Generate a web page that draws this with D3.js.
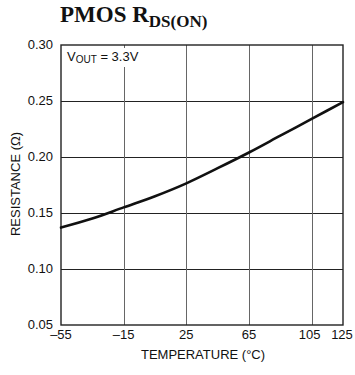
<!DOCTYPE html>
<html>
<head>
<meta charset="utf-8">
<script src="https://cdn.jsdelivr.net/npm/d3@7"></script>
<style>
  html, body { margin: 0; padding: 0; background: #fff; }
  svg { display: block; }
  .lbl { font-family: "Liberation Sans", Arial, Helvetica, sans-serif; }
</style>
</head>
<body>
<script>
// PMOS on-resistance versus junction temperature
const temperatures = [-55, -35, -15, 5, 25, 45, 65, 85, 105, 125];
const resistance   = [0.137, 0.145, 0.155, 0.165, 0.1765, 0.19, 0.204, 0.219, 0.234, 0.249];
const xTicks = [-55, -15, 25, 65, 105, 125];
const yTicks = [0.05, 0.10, 0.15, 0.20, 0.25, 0.30];

const W = 355, H = 375;
const margin = { left: 61, right: 12, top: 45, bottom: 50 };

const svg = d3.select("body").append("svg")
  .attr("width", W).attr("height", H);

const x = d3.scaleLinear().domain([-55, 125]).range([margin.left, W - margin.right]);
const y = d3.scaleLinear().domain([0.05, 0.30]).range([H - margin.bottom, margin.top]);

// Title
const title = svg.append("text")
  .attr("x", 60).attr("y", 22)
  .attr("font-family", "'Liberation Serif', 'Times New Roman', serif")
  .attr("font-weight", "bold")
  .attr("font-size", 23)
  .attr("fill", "#111");
title.append("tspan").text("PMOS R");
title.append("tspan").attr("font-size", 17).attr("dy", 5).text("DS(ON)");

// Grid lines
const grid = svg.append("g");
grid.selectAll("line.h")
  .data(yTicks.filter(v => v > 0.05 && v < 0.30))
  .join("line")
  .attr("x1", x(-55)).attr("x2", x(125))
  .attr("y1", d => Math.round(y(d)) + 0.5).attr("y2", d => Math.round(y(d)) + 0.5)
  .attr("stroke", "#222").attr("stroke-width", 1);
grid.selectAll("line.v")
  .data(xTicks.filter(v => v > -55 && v < 125))
  .join("line")
  .attr("x1", d => Math.round(x(d)) + 0.5).attr("x2", d => Math.round(x(d)) + 0.5)
  .attr("y1", y(0.30)).attr("y2", y(0.05))
  .attr("stroke", "#666").attr("stroke-width", 1);

// Condition label, set on a white patch over the grid
svg.append("rect")
  .attr("x", 64).attr("y", 48).attr("width", 82).attr("height", 19)
  .attr("fill", "#fff");
const cond = svg.append("text")
  .attr("class", "lbl")
  .attr("x", 67).attr("y", 61)
  .attr("font-size", 13).attr("fill", "#111");
cond.append("tspan").text("V");
cond.append("tspan").attr("font-size", 10).attr("dy", 2).text("OUT");
cond.append("tspan").attr("dy", -2).text(" = 3.3V");

// Frame
svg.append("rect")
  .attr("x", x(-55)).attr("y", y(0.30))
  .attr("width", x(125) - x(-55)).attr("height", y(0.05) - y(0.30))
  .attr("fill", "none").attr("stroke", "#222").attr("stroke-width", 1.4);

// Resistance curve
const line = d3.line()
  .x((d, i) => x(temperatures[i]))
  .y(d => y(d))
  .curve(d3.curveMonotoneX);
svg.append("path")
  .datum(resistance)
  .attr("d", line)
  .attr("fill", "none")
  .attr("stroke", "#111")
  .attr("stroke-width", 2.6)
  .attr("stroke-linecap", "round");

// Tick labels (no tick marks)
const fmtX = d => d < 0 ? "\u2013" + Math.abs(d) : String(d);
svg.append("g").selectAll("text")
  .data(xTicks).join("text")
  .attr("class", "lbl")
  .attr("x", d => d === 105 ? x(d) - 2 : d === 125 ? x(d) - 1 : x(d))
  .attr("y", 339)
  .attr("text-anchor", "middle")
  .attr("font-size", 13).attr("fill", "#111")
  .text(fmtX);

svg.append("g").selectAll("text")
  .data(yTicks).join("text")
  .attr("class", "lbl")
  .attr("x", 53)
  .attr("y", d => y(d) + 4)
  .attr("text-anchor", "end")
  .attr("font-size", 13).attr("fill", "#111")
  .text(d => d3.format(".2f")(d));

// Axis titles
svg.append("text")
  .attr("class", "lbl")
  .attr("x", (x(-55) + x(125)) / 2 + 1).attr("y", 359)
  .attr("text-anchor", "middle")
  .attr("font-size", 13).attr("fill", "#111")
  .text("TEMPERATURE (\u00B0C)");

svg.append("text")
  .attr("class", "lbl")
  .attr("transform", "translate(20, 184) rotate(-90)")
  .attr("text-anchor", "middle")
  .attr("font-size", 13).attr("fill", "#111")
  .text("RESISTANCE (\u03A9)");
</script>
</body>
</html>
